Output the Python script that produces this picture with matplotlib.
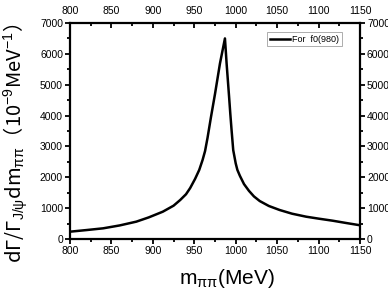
import matplotlib
matplotlib.use("Agg")
import matplotlib.pyplot as plt
from matplotlib.ticker import MultipleLocator

# data
m_pipi = [800, 820, 840, 860, 880, 895, 912, 925, 933, 940, 945, 951, 956, 960,
          963, 966, 970, 975, 981, 987, 988, 989, 990.5, 992, 993.5,
          995, 997, 1000, 1002, 1005, 1010, 1016, 1022, 1029, 1040, 1053, 1068,
          1085, 1100, 1117, 1133, 1150]
rate = [237, 290, 346, 440, 562, 700, 885, 1080, 1264, 1450, 1650, 1950, 2240, 2560,
        2850, 3280, 3930, 4700, 5690, 6500, 6100, 5690, 5150, 4610, 4050,
        3530, 2880, 2450, 2240, 2050, 1780, 1560, 1380, 1230, 1070, 940, 820,
        723, 660, 593, 520, 445]
legend_label = "For  f0(980)"
xticks = [800, 850, 900, 950, 1000, 1050, 1100, 1150]
yticks = [0, 1000, 2000, 3000, 4000, 5000, 6000, 7000]

plt.rcParams['mathtext.fontset'] = 'custom'
plt.rcParams['mathtext.rm'] = 'Liberation Sans'
plt.rcParams['mathtext.it'] = 'Liberation Sans:italic'
plt.rcParams['font.family'] = ['Liberation Sans', 'DejaVu Sans']

fig = plt.figure(figsize=(3.88, 2.91), dpi=100)
ax = fig.add_axes([70/388, 1-239/291, 290/388, 216/291])

ax.plot(m_pipi, rate, color='black', lw=1.8, label=legend_label)
ax.set_xlim(800, 1150)
ax.set_ylim(0, 7000)
ax.set_xticks(xticks)
ax.set_yticks(yticks)
ax.xaxis.set_minor_locator(MultipleLocator(25))
ax.yaxis.set_minor_locator(MultipleLocator(500))

for s in ax.spines.values():
    s.set_linewidth(1.6)

ax.tick_params(axis='both', which='both', labelsize=7.5, width=1.3, pad=1.5,
               colors='black')
ax.tick_params(which='major', length=3.5)
ax.tick_params(which='minor', length=2)
ax.tick_params(axis='x', which='both', top=True, labeltop=True, bottom=True,
               direction='out')
ax.tick_params(axis='y', which='both', right=True, labelright=True, direction='out')
# top ticks point inward in the reference
for t in ax.xaxis.get_major_ticks() + ax.xaxis.get_minor_ticks():
    t.tick2line.set_marker(matplotlib.lines.TICKDOWN)

ax.set_xlabel(r'm$_{\mathrm{\pi\pi}}$(MeV)', fontsize=15, va='center')
ax.xaxis.set_label_coords(0.54, -0.185)
ax.set_ylabel(r'dΓ/Γ$_{\mathrm{J/\psi}}$dm$_{\mathrm{\pi\pi}}$（10$^{-9}$MeV$^{-1}$）',
              fontsize=14.5, family='Noto Sans CJK SC', va='center')
ax.yaxis.set_label_coords(-0.188, 0.444)

leg = ax.legend(loc='upper right', bbox_to_anchor=(0.938, 0.958), fontsize=6.5,
                frameon=True, fancybox=False, edgecolor='#888888',
                handlelength=2.2, handletextpad=0.3, borderpad=0.3,
                borderaxespad=0)
leg.get_frame().set_linewidth(0.6)

fig.savefig('out.png', dpi=100)
